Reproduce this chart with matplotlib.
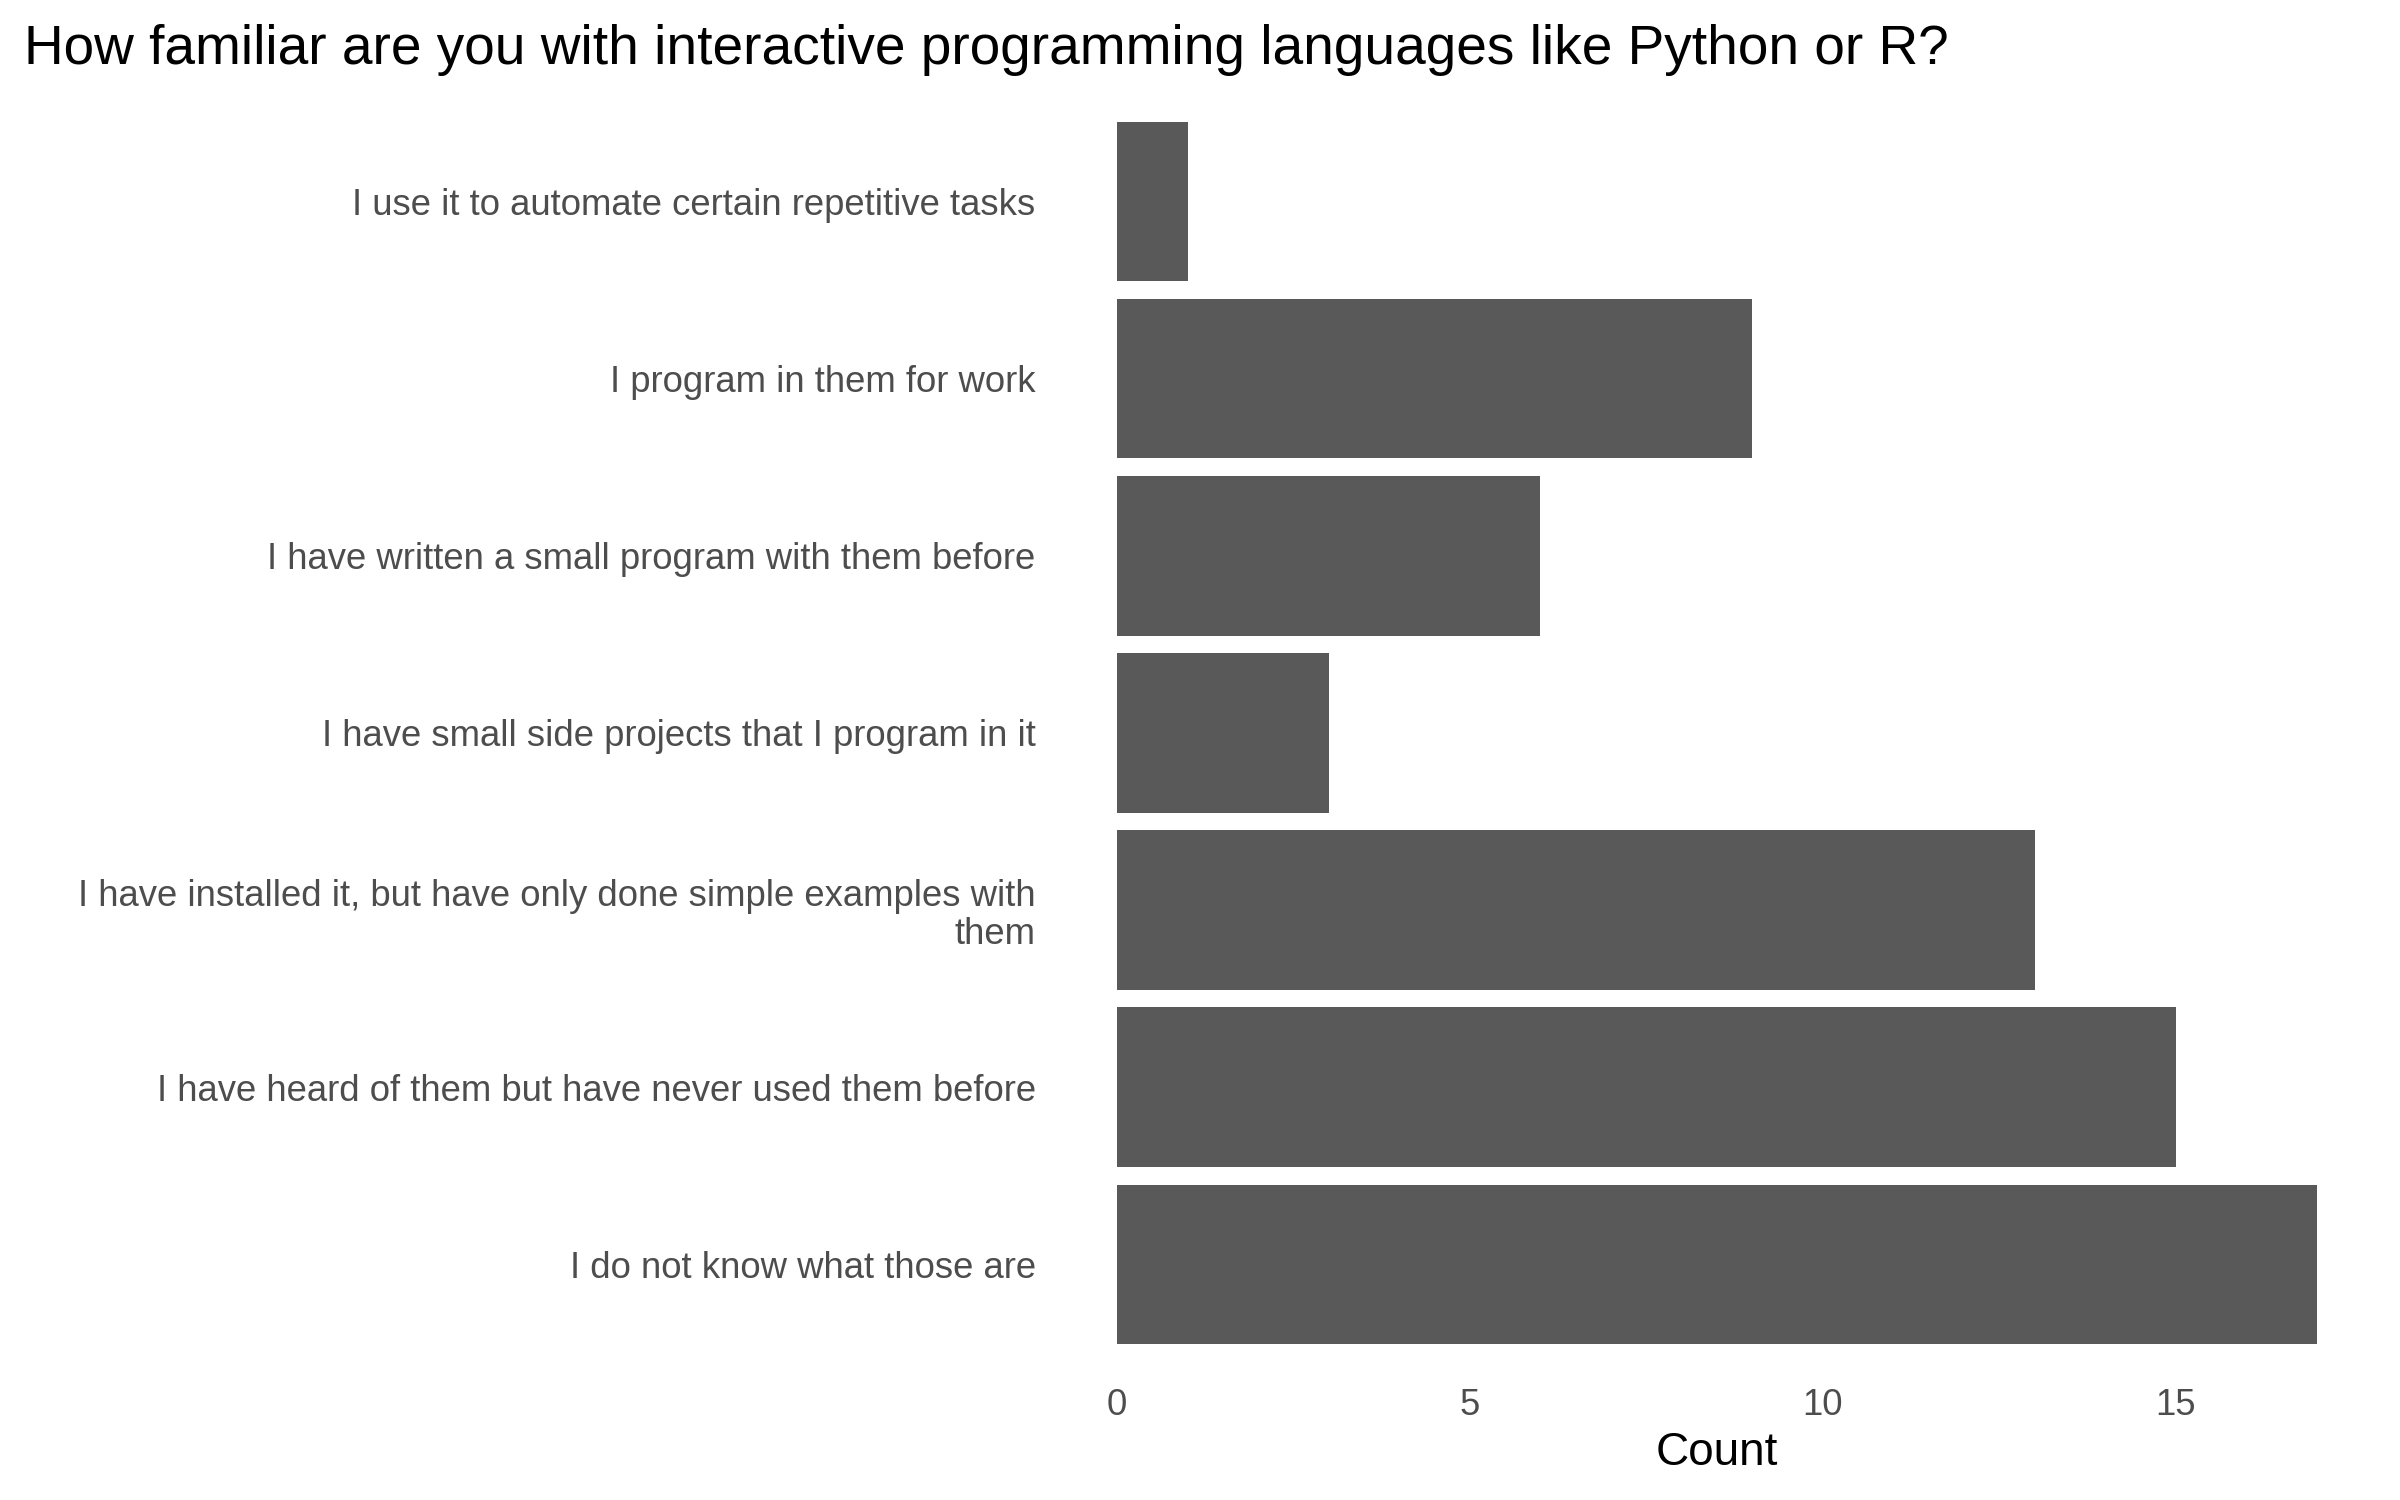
import matplotlib
import matplotlib.pyplot as plt

matplotlib.use("Agg")

plt.rcParams["font.family"] = ["Liberation Sans", "DejaVu Sans"]

# answers from top to bottom, as in the chart
answers = [
    "I use it to automate certain repetitive tasks",
    "I program in them for work",
    "I have written a small program with them before",
    "I have small side projects that I program in it",
    "I have installed it, but have only done simple examples with\nthem",
    "I have heard of them but have never used them before",
    "I do not know what those are",
]
counts = [1, 9, 6, 3, 13, 15, 17]
x_ticks = [0, 5, 10, 15]

title = "How familiar are you with interactive programming languages like Python or R?"

fig = plt.figure(figsize=(16, 10), dpi=150)
ax = fig.add_axes([0.4654, 0.104, 0.5, 0.8147])

ypos = list(range(len(answers), 0, -1))
ax.barh(ypos, counts, height=0.9, color="#595959")

ax.set_xlim(0, max(counts))
ax.set_ylim(0.55, len(answers) + 0.45)
ax.set_yticks(ypos)
ax.set_yticklabels(answers, fontsize=17.5, color="#4d4d4d", linespacing=1.1)
ax.set_xticks(x_ticks)
ax.set_xticklabels([str(t) for t in x_ticks], fontsize=17.5, color="#4d4d4d")
ax.tick_params(axis="y", length=0, pad=39)
ax.tick_params(axis="x", length=0, pad=21)
ax.set_xlabel("Count", fontsize=22, color="black", labelpad=4)

for s in ax.spines.values():
    s.set_visible(False)

fig.text(24 / 2400, 1 - 64 / 1500, title, fontsize=26.4, color="black",
         ha="left", va="baseline")

fig.savefig("out.png", dpi=150, facecolor="white")
